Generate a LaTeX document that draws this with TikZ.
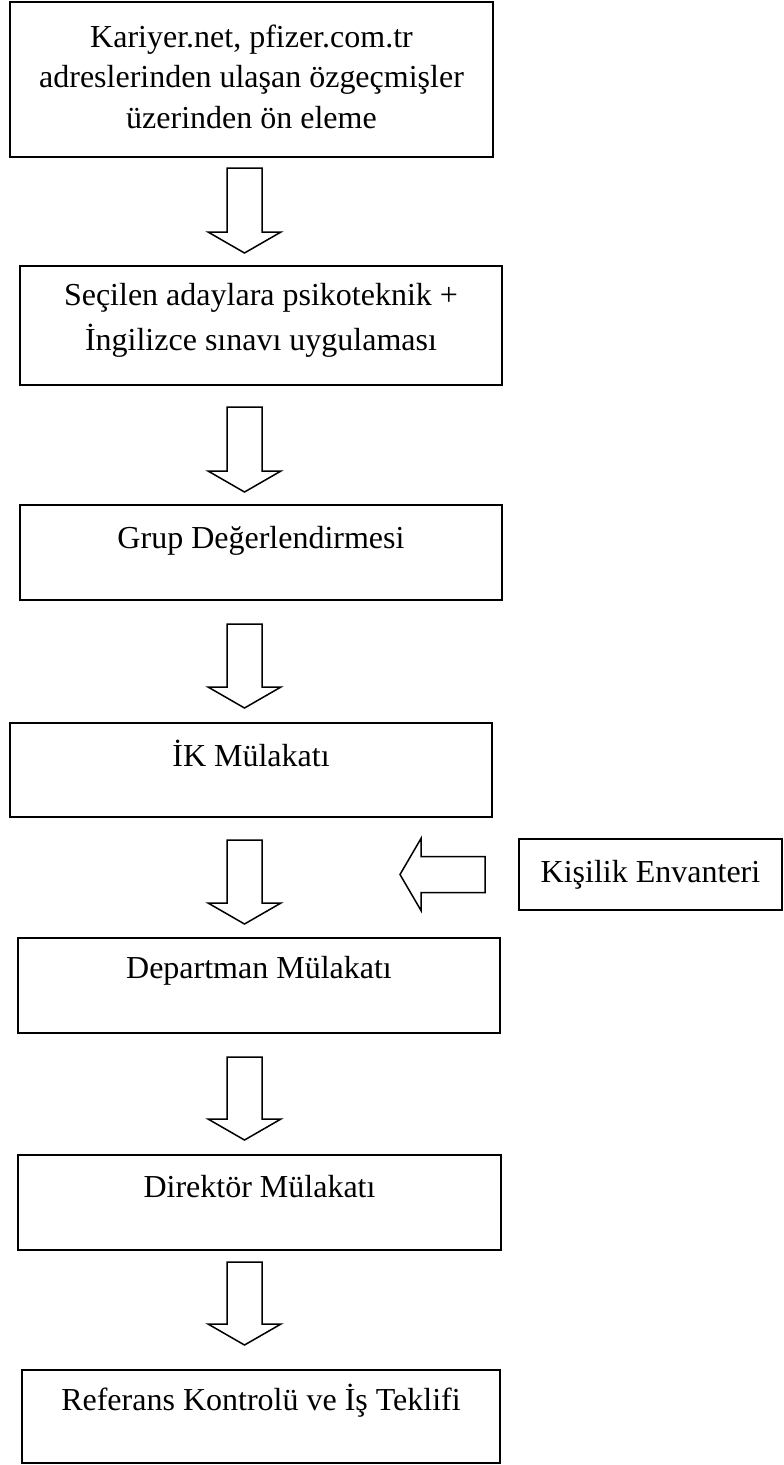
\documentclass[tikz,border=0pt]{standalone}
\usepackage{fontspec}
\setmainfont{Liberation Serif}
\usetikzlibrary{calc}

\begin{document}
\begin{tikzpicture}[
  x=1pt, y=-1pt,
  font=\fontsize{32}{40.5}\selectfont,
  stepbox/.style={draw, line width=2.2pt, inner sep=0pt, outer sep=0pt,
                  align=center, anchor=north, minimum width=#1},
  stepbox/.default=482pt,
  blockdown/.style={draw, line width=1.5pt, to path={
      let \p1=(\tikztostart), \p2=(\tikztotarget) in
      (\x1-17.5pt,\y1) -- (\x1+17.5pt,\y1) -- (\x1+17.5pt,\y2+21pt)
      -- (\x1+36.5pt,\y2+21pt) -- (\x2,\y2) -- (\x1-36.5pt,\y2+21pt)
      -- (\x1-17.5pt,\y2+21pt) -- cycle}},
  blockleft/.style={draw, line width=1.5pt, to path={
      let \p1=(\tikztostart), \p2=(\tikztotarget) in
      (\x1,\y1-18pt) -- (\x2+21pt,\y1-18pt) -- (\x2+21pt,\y1-36pt)
      -- (\x2,\y2) -- (\x2+21pt,\y1+36pt) -- (\x2+21pt,\y1+18pt)
      -- (\x1,\y1+18pt) -- cycle}},
]
\useasboundingbox (0,0) rectangle (784,1465);

%% ---------- Steps ----------------------------------------------
\node[stepbox=483pt, text height=126pt, text depth=29pt] (pre) at (251.5,2)
      {Kariyer.net, pfizer.com.tr\\adreslerinden ulaşan özgeçmişler\\üzerinden ön eleme};
\node[stepbox, text height=84pt, text depth=35pt] (sinav) at (261,266)
      {Seçilen adaylara psikoteknik +\\[4.5pt]İngilizce sınavı uygulaması};
\node[stepbox, text height=43pt, text depth=52pt] (grup) at (261,505)
      {Grup Değerlendirmesi};
\node[stepbox, text height=43pt, text depth=51pt] (ik) at (251,723)
      {İK Mülakatı};
\node[stepbox, text height=40pt, text depth=55pt] (dept) at (259,938)
      {Departman Mülakatı};
\node[stepbox=483pt, text height=42pt, text depth=53pt] (dir) at (259.5,1155)
      {Direktör Mülakatı};
\node[stepbox=478pt, text height=40pt, text depth=53pt] (ref) at (261,1370)
      {Referans Kontrolü ve İş Teklifi};

%% ---------- Side input -----------------------------------------
\node[stepbox=263pt, line width=1.5pt, text height=43pt, text depth=28pt]
      (envanter) at (650.5,839) {Kişilik Envanteri};

%% ---- Arrows ---------------------------------------------------
\coordinate (axis)  at (244.5,0);
\coordinate (joint) at (400,874.5);

\draw[blockdown] ($(pre.south -| axis)+(0,11)$)   to ($(sinav.north -| axis)+(0,-13)$);
\draw[blockdown] ($(sinav.south -| axis)+(0,22)$) to ($(grup.north -| axis)+(0,-13)$);
\draw[blockdown] ($(grup.south -| axis)+(0,24)$)  to ($(ik.north -| axis)+(0,-15)$);
\draw[blockdown] ($(ik.south -| axis)+(0,23)$)    to ($(dept.north -| axis)+(0,-14)$);
\draw[blockdown] ($(dept.south -| axis)+(0,24)$)  to ($(dir.north -| axis)+(0,-15)$);
\draw[blockdown] ($(dir.south -| axis)+(0,12)$)   to ($(ref.north -| axis)+(0,-25)$);

%% Kişilik Envanteri feeds in
\draw[blockleft] ($(envanter.west)+(-34,0)$) to (joint);
\end{tikzpicture}
\end{document}
